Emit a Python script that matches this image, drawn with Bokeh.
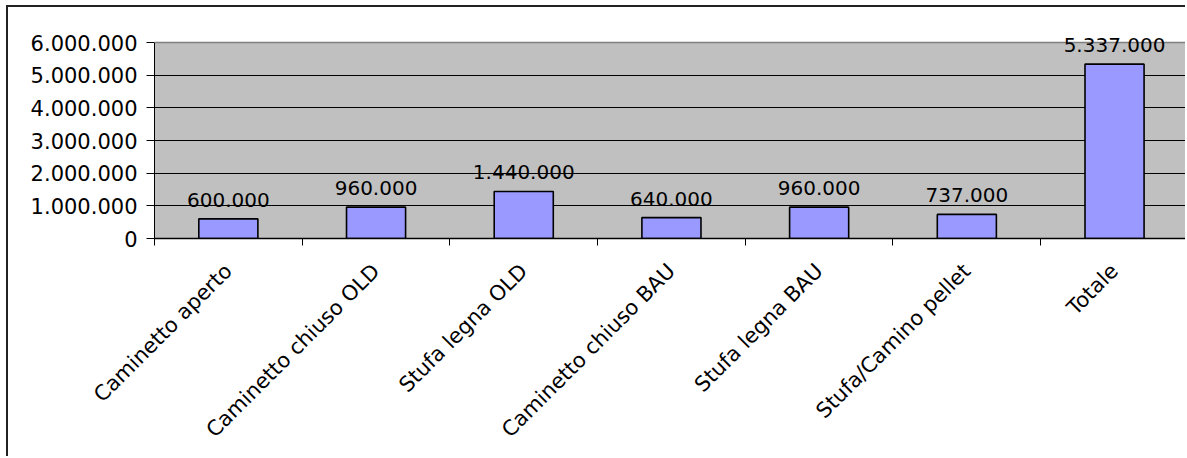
import math
from bokeh.plotting import figure
from bokeh.models import FixedTicker, Range1d, LabelSet, ColumnDataSource, BoxAnnotation, Span
from bokeh.core.properties import value
from bokeh.embed import file_html
from bokeh.resources import INLINE

categories = ["Caminetto aperto", "Caminetto chiuso OLD", "Stufa legna OLD",
              "Caminetto chiuso BAU", "Stufa legna BAU", "Stufa/Camino pellet", "Totale"]
values = [600000, 960000, 1440000, 640000, 960000, 737000, 5337000]
y_ticks = [0, 1000000, 2000000, 3000000, 4000000, 5000000, 6000000]
y_tick_labels = ["0", "1.000.000", "2.000.000", "3.000.000", "4.000.000", "5.000.000", "6.000.000"]


def it_fmt(v):
    return f"{v:,}".replace(",", ".")


FONT = "DejaVu Sans"
Y_MAX = y_ticks[-1]
centers = [i + 0.5 for i in range(len(categories))]
source = ColumnDataSource(dict(x=centers, top=values, label=[it_fmt(v) for v in values]))

p = figure(width=1179, height=451, x_range=Range1d(0, 6.994),
           y_range=Range1d(0, Y_MAX * 221 / 196),
           output_backend="svg", toolbar_location=None,
           min_border_left=146, min_border_right=0, min_border_top=10, min_border_bottom=220)
p.styles = {"margin-left": "6px", "margin-top": "5px",
            "border-left": "2px solid #222222", "border-top": "2px solid #222222"}
p.background_fill_color = "white"
p.border_fill_color = "white"
p.outline_line_color = None

# plot area (0 .. top tick)
p.add_layout(BoxAnnotation(bottom=0, top=Y_MAX, fill_color="#C0C0C0", fill_alpha=1,
                           line_color=None, level="image"))
p.add_layout(Span(location=Y_MAX, dimension="width", line_color="#808080", line_width=1.5))

p.vbar(x="x", top="top", width=0.4, source=source, fill_color="#9999FF",
       line_color="black", line_width=1.6)

labels = LabelSet(x="x", y="top", text="label", source=source, y_offset=12,
                  text_align="center", text_baseline="alphabetic",
                  text_font=value(FONT), text_font_size=value("20px"), text_color="black")
p.add_layout(labels)

# x axis
p.xaxis.ticker = FixedTicker(ticks=centers, minor_ticks=list(range(len(categories) + 1)))
p.xaxis.major_label_overrides = {c: n for c, n in zip(centers, categories)}
p.xaxis.major_tick_line_color = None
p.xaxis.minor_tick_line_color = "black"
p.xaxis.minor_tick_in = 0
p.xaxis.minor_tick_out = 7
p.xaxis.major_label_orientation = math.pi / 4
p.xaxis.major_label_text_font = FONT
p.xaxis.major_label_text_font_size = "21px"
p.xaxis.major_label_text_color = "black"
p.xaxis.major_label_standoff = 22
p.xaxis.axis_line_color = "black"
p.xaxis.axis_line_width = 1.5

# y axis
p.yaxis.ticker = FixedTicker(ticks=y_ticks, minor_ticks=[])
p.yaxis.bounds = (0, Y_MAX)
p.yaxis.major_label_overrides = {t: l for t, l in zip(y_ticks, y_tick_labels)}
p.yaxis.major_tick_in = 0
p.yaxis.major_tick_out = 8
p.yaxis.major_tick_line_color = "black"
p.yaxis.major_label_text_font = FONT
p.yaxis.major_label_text_font_size = "21px"
p.yaxis.major_label_text_color = "black"
p.yaxis.major_label_standoff = 9
p.yaxis.axis_line_color = "black"

p.xgrid.grid_line_color = None
p.ygrid.ticker = FixedTicker(ticks=y_ticks[1:-1])
p.ygrid.grid_line_color = "black"
p.ygrid.grid_line_width = 1

open("out.html", "w").write(file_html(p, INLINE))
